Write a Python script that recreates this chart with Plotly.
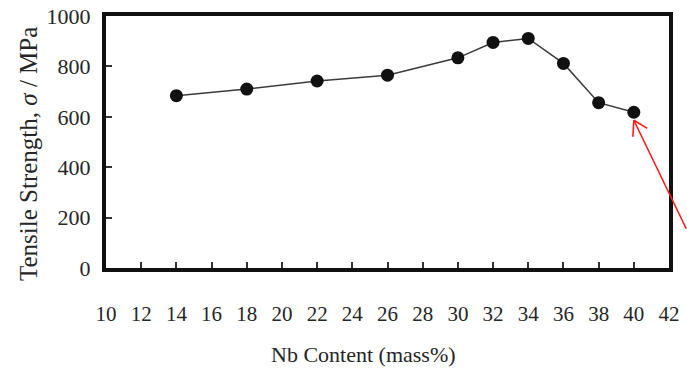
import plotly.graph_objects as go

nb_content = [14, 18, 22, 26, 30, 32, 34, 36, 38, 40]
tensile_strength = [684, 710, 742, 765, 834, 895, 911, 812, 656, 618]
x_ticks = list(range(10, 43, 2))
y_ticks = [0, 200, 400, 600, 800, 1000]
x_title = "Nb Content (mass%)"
y_title = "Tensile Strength, <i>σ</i> / MPa"

FONT = "Liberation Serif"
TXT = "#262626"

fig = go.Figure()
fig.add_trace(go.Scatter(
    x=nb_content, y=tensile_strength, mode="lines+markers",
    line=dict(color="#3a3a3a", width=1.5),
    marker=dict(color="#111111", size=13),
    showlegend=False,
))

# red arrow pointing to last point (open V head)
last_x, last_y = nb_content[-1], tensile_strength[-1]
for ax_, ay_ in [(62, 110), (-1, 18), (15, 9)]:
    fig.add_annotation(x=last_x, y=last_y, xref="x", yref="y", text="",
                       showarrow=True, arrowhead=0, arrowwidth=1.6,
                       arrowcolor="#ff1a1a", ax=ax_, ay=ay_, yshift=-8)

# axis titles
fig.add_annotation(x=0.5, y=0, xref="paper", yref="paper", text=x_title,
                   showarrow=False, xanchor="center", yanchor="middle",
                   xshift=-24, yshift=-86,
                   font=dict(size=22, family=FONT, color=TXT))
fig.add_annotation(x=0, y=0.5, xref="paper", yref="paper", text=y_title,
                   showarrow=False, xanchor="center", yanchor="middle", textangle=-90,
                   xshift=-78, yshift=-12,
                   font=dict(size=25, family=FONT, color=TXT))

fig.update_layout(
    width=687, height=371,
    margin=dict(l=106, r=18, t=16, b=103),
    paper_bgcolor="white", plot_bgcolor="white",
    font=dict(family=FONT, color=TXT, size=21),
)
fig.update_xaxes(
    range=[10, 42], tickvals=x_ticks, ticktext=[str(v) for v in x_ticks],
    showgrid=False, zeroline=False, automargin=False,
    showline=True, linecolor="#111", linewidth=4, mirror=True,
    ticks="inside", ticklen=6, tickwidth=1.5, tickcolor="#333",
    ticklabelstandoff=24, ticklabeloverflow="allow",
    tickfont=dict(size=21, family=FONT, color=TXT),
)
fig.update_yaxes(
    range=[0, 1000], tickvals=y_ticks, ticktext=[str(v) for v in y_ticks],
    showgrid=False, zeroline=False, automargin=False,
    showline=True, linecolor="#111", linewidth=4, mirror=True,
    ticks="inside", ticklen=6, tickwidth=1.5, tickcolor="#333",
    ticklabelstandoff=7, ticklabeloverflow="allow",
    tickfont=dict(size=22, family=FONT, color=TXT),
)

fig.write_html("out.html", config={"displayModeBar": False},
               post_script="document.body.style.margin='0';")
